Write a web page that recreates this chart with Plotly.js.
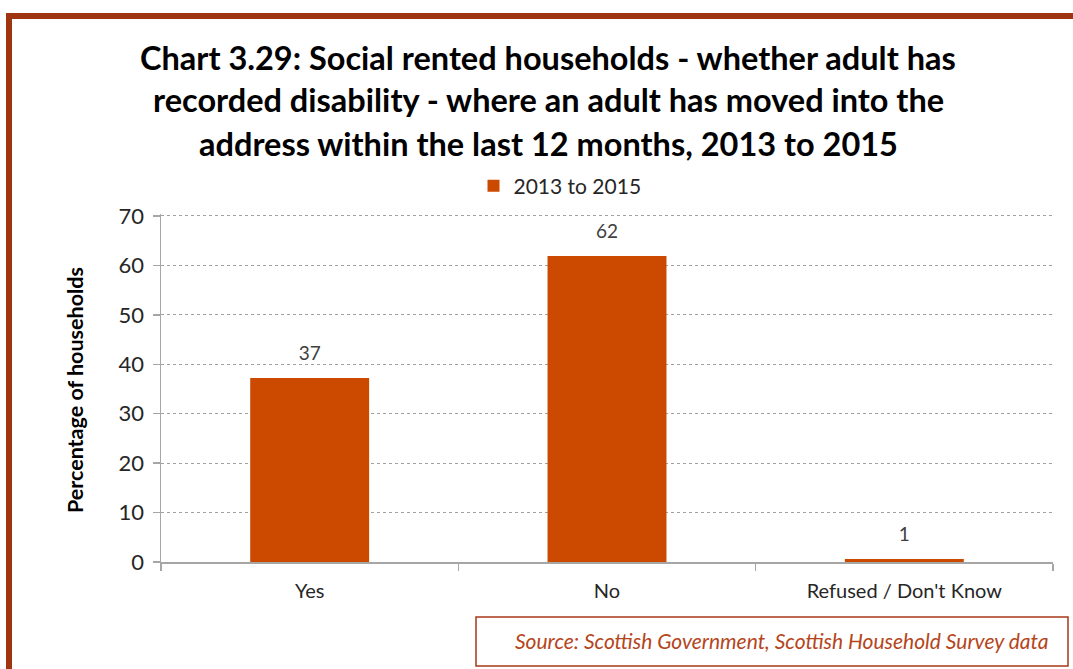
<!DOCTYPE html>
<html>
<head>
<meta charset="utf-8">
<script src="https://cdn.plot.ly/plotly-3.0.1.min.js"></script>
<style>
html,body{margin:0;padding:0;background:#fff;}
#chart{width:1073px;height:669px;}
</style>
</head>
<body>
<div id="chart"></div>
<script>
const categories = ["Yes", "No", "Refused / Don't Know"];
const values2013to2015 = [37.2, 61.9, 0.6];
const valueLabels = ["37", "62", "1"];
const seriesName = "2013 to 2015";
const yTicks = [0, 10, 20, 30, 40, 50, 60, 70];
const titleLines = [
  "Chart 3.29: Social rented households - whether adult has",
  "recorded disability - where an adult has moved into the",
  "address within the last 12 months, 2013 to 2015"
];
const yTitle = "Percentage of households";
const sourceText = "Source: Scottish Government, Scottish Household Survey data";

// plot area pixel geometry
const W = 1073, H = 669;
const L = 161, R = 1053, T = 214, B = 562;
const px = x => (x - L) / (R - L);
const py = y => (B - y) / (B - T);

const FONT = "Lato, 'Open Sans', sans-serif";
const barColor = "#CC4A00";
const frameColor = "#9E3510";

const traces = [
  {
    type: "bar",
    x: categories,
    y: values2013to2015,
    name: seriesName,
    marker: {color: barColor},
    hoverinfo: "skip"
  },
  {
    type: "scatter",
    mode: "markers+text",
    x: categories,
    y: values2013to2015,
    text: valueLabels,
    textposition: "top center",
    textfont: {family: FONT, size: 19, color: "#404040"},
    marker: {size: 20, opacity: 0},
    showlegend: false,
    hoverinfo: "skip",
    cliponaxis: false
  }
];

const titleY = [57, 100, 143];
const annotations = titleLines.map((t, i) => ({
  text: "<b>" + t + "</b>",
  xref: "paper", yref: "paper",
  x: px(548), y: py(titleY[i]),
  xanchor: "center", yanchor: "middle",
  showarrow: false,
  font: {family: FONT, size: 32.5, color: "#000"}
}));
annotations.push({
  text: "<b>" + yTitle + "</b>",
  xref: "paper", yref: "paper",
  x: px(75), y: py(390),
  xanchor: "center", yanchor: "middle",
  textangle: -90,
  showarrow: false,
  font: {family: FONT, size: 21.5, color: "#000"}
});
annotations.push({
  text: "<i>" + sourceText + "</i>",
  xref: "paper", yref: "paper",
  x: px(782), y: py(640),
  xanchor: "center", yanchor: "middle",
  showarrow: false,
  font: {family: FONT, size: 21, color: "#B5451B"}
});

const shapes = [
  {type: "rect", xref: "paper", yref: "paper",
   x0: px(9), x1: px(1090), y0: py(690), y1: py(16),
   line: {color: frameColor, width: 6}, fillcolor: "rgba(0,0,0,0)", layer: "below"},
  {type: "rect", xref: "paper", yref: "paper",
   x0: px(476), x1: px(1068), y0: py(666), y1: py(617),
   line: {color: "#A8381A", width: 1.5}, fillcolor: "rgba(0,0,0,0)"}
];

const layout = {
  width: W, height: H,
  margin: {l: L, r: W - R, t: T, b: H - B, pad: 0},
  paper_bgcolor: "#fff",
  plot_bgcolor: "#fff",
  font: {family: FONT, size: 18, color: "#262626"},
  showlegend: true,
  legend: {
    orientation: "h",
    x: px(560), y: py(186),
    xanchor: "center", yanchor: "middle",
    font: {family: FONT, size: 21, color: "#262626"},
    itemwidth: 30,
    bgcolor: "rgba(0,0,0,0)"
  },
  bargap: 0.6,
  xaxis: {
    type: "category",
    showline: true, linecolor: "#A6A6A6", linewidth: 1.5,
    ticks: "outside", tickson: "boundaries", ticklen: 7, tickcolor: "#A6A6A6", tickwidth: 1.5,
    showgrid: false, zeroline: false,
    tickfont: {family: FONT, size: 20, color: "#262626"},
    ticklabelstandoff: 10,
    fixedrange: true
  },
  yaxis: {
    range: [0, 70.4],
    tickvals: yTicks,
    showline: true, linecolor: "#A6A6A6", linewidth: 1.5,
    ticks: "outside", ticklen: 7, tickcolor: "#A6A6A6", tickwidth: 1.5,
    showgrid: true, gridcolor: "#A0A0A0", gridwidth: 1, griddash: "dot",
    zeroline: false,
    tickfont: {family: FONT, size: 22, color: "#262626"},
    ticklabelstandoff: 4,
    fixedrange: true
  },
  annotations: annotations,
  shapes: shapes
};

Plotly.newPlot("chart", traces, layout, {displayModeBar: false, staticPlot: true});
</script>
</body>
</html>
